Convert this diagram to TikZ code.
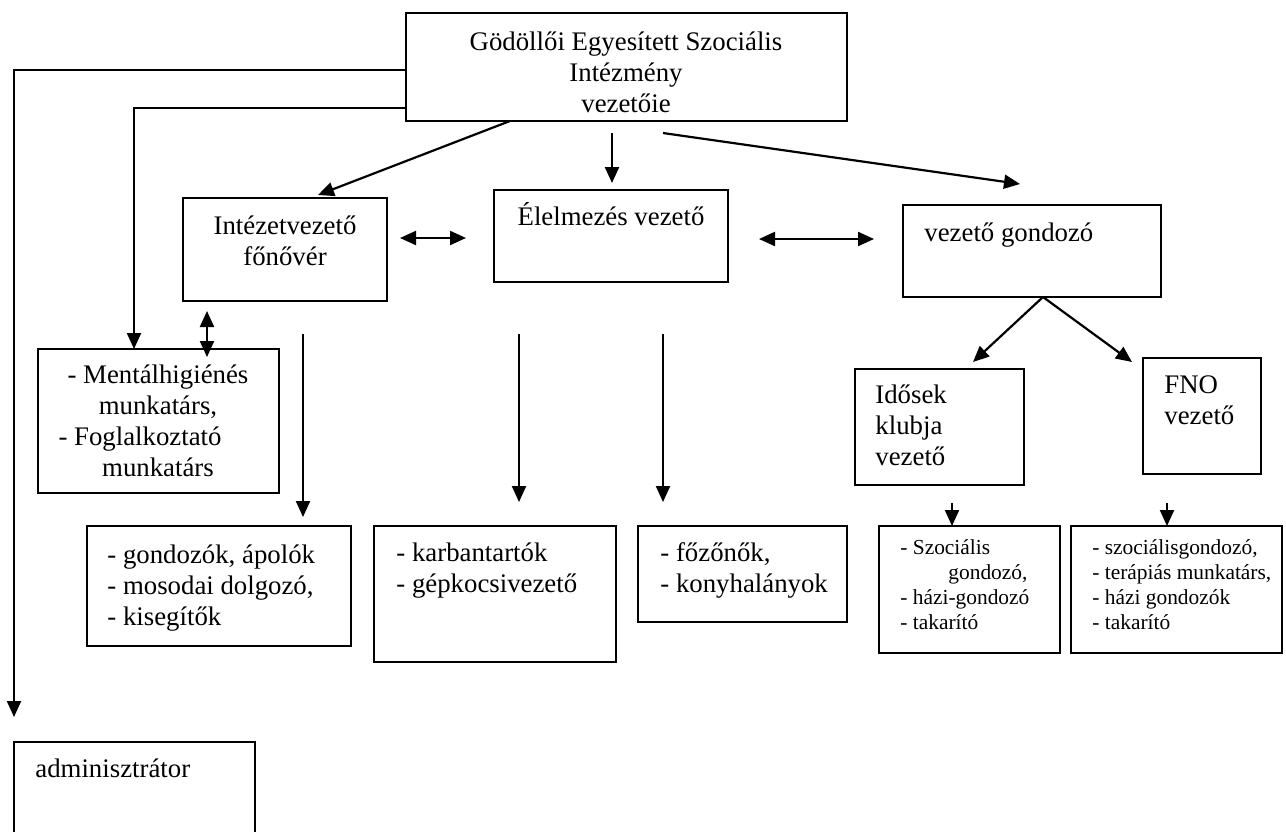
\documentclass[tikz,border=0pt]{standalone}
\usepackage{fontspec}
\setmainfont{Liberation Serif}
\usetikzlibrary{arrows.meta}
\newcommand\mainfs{\fontsize{13.4}{15.5}\selectfont}
\newcommand\smallfs{\fontsize{10.7}{12.4}\selectfont}
\newcommand\mkbox[5]{\node[boxst, anchor=north west, minimum width={(#4-#2)*0.5pt}, minimum height={(#5-#3)*0.5pt}] (#1) at (#2,#3) {};}
\begin{document}
\begin{tikzpicture}[x=0.5pt,y=-0.5pt,
  boxst/.style={draw, line width=1.1pt, inner sep=0pt, outer sep=0pt},
  txt/.style={inner sep=0pt, font=\mainfs, align=left, anchor=base west},
  ctxt/.style={inner sep=0pt, font=\mainfs, align=center, anchor=base},
  stxt/.style={inner sep=0pt, font=\smallfs, align=left, anchor=base west},
  arr/.style={line width=1.1pt, -{Triangle[length=8pt,width=7pt]}},
  darr/.style={line width=1.1pt, {Triangle[length=8pt,width=7pt]}-{Triangle[length=8pt,width=7pt]}}]
\path[use as bounding box, clip] (0,0) rectangle (1286,831);
\fill[white] (0,0) rectangle (1286,831);

% boxes
\mkbox{top}{406}{13}{847}{121}
\mkbox{intez}{183}{198}{387}{301}
\mkbox{elel}{494}{190}{728}{282}
\mkbox{vgond}{903}{205}{1161}{297}
\mkbox{mental}{38}{349}{279}{493}
\mkbox{gond}{87}{526}{351}{646}
\mkbox{karb}{374}{526}{616}{662}
\mkbox{fozo}{638}{526}{847}{622}
\mkbox{idos}{855}{369}{1024}{485}
\mkbox{fno}{1143}{358}{1261}{474}
\mkbox{szoc}{879}{526}{1060}{653}
\mkbox{fnol}{1071}{526}{1282}{653}
\mkbox{adm}{14}{742}{255}{840}

% texts (anchor = baseline of the last line)
\node[ctxt] (topt) at (626,112) {Gödöllői Egyesített Szociális\\Intézmény\\vezetőie};
\node[ctxt] (intezt) at (285,265) {Intézetvezető\\főnővér};
\node[ctxt] (elelt) at (611,225) {Élelmezés vezető};
\node[txt] (vgondt) at (924,241) {vezető gondozó};
\node[ctxt] (mentalt) at (158,476) {- Mentálhigiénés\\munkatárs,\\\mbox{- Foglalkoztató\hspace{18pt}}\\munkatárs};
\node[txt] (gondt) at (107,625) {- gondozók, ápolók\\- mosodai dolgozó,\\- kisegítők};
\node[txt] (karbt) at (396,592) {- karbantartók\\- gépkocsivezető};
\node[txt] (fozot) at (660,592) {- főzőnők,\\- konyhalányok};
\node[txt] (idost) at (875,465) {Idősek\\klubja\\vezető};
\node[txt] (fnot) at (1164,424) {FNO\\vezető};
\node[stxt] (szoct) at (900,629) {- Szociális\\\hspace*{24pt}gondozó,\\- házi-gondozó\\- takarító};
\node[stxt] (fnolt) at (1092,629) {- szociálisgondozó,\\- terápiás munkatárs,\\- házi gondozók\\- takarító};
\node[txt] (admt) at (35,777) {adminisztrátor};

% connector points
\coordinate (c1) at (14,70);
\coordinate (c1e) at (14,717);
\coordinate (c2) at (134,108);
\coordinate (d1s) at (510,121);
\coordinate (d1e) at (318,195);
\coordinate (d2s) at (612,133);
\coordinate (d2e) at (612,183);
\coordinate (d3s) at (663,133);
\coordinate (d3e) at (1020,184);
\coordinate (h1s) at (400,238);
\coordinate (h1e) at (466,238);
\coordinate (h2s) at (759,239);
\coordinate (h2e) at (874,239);
\coordinate (v1s) at (207,311);
\coordinate (v1e) at (207,357);
\coordinate (g1s) at (303,334);
\coordinate (g1e) at (303,517);
\coordinate (k1s) at (519,334);
\coordinate (k1e) at (519,502);
\coordinate (f1s) at (663,334);
\coordinate (f1e) at (663,502);
\coordinate (vg) at (1043,297);
\coordinate (vgl) at (973,362);
\coordinate (vgr) at (1132,362);
\coordinate (s1s) at (952,503);
\coordinate (s2s) at (1167,503);

% connectors
\draw[arr] (top.west |- c1) -- (c1) -- (c1e);
\draw[arr] (top.west |- c2) -- (c2) -- (c2 |- mental.north);
\draw[arr] (d1s) -- (d1e);
\draw[arr] (d2s) -- (d2e);
\draw[arr] (d3s) -- (d3e);
\draw[darr] (h1s) -- (h1e);
\draw[darr] (h2s) -- (h2e);
\draw[darr] (v1s) -- (v1e);
\draw[arr] (g1s) -- (g1e);
\draw[arr] (k1s) -- (k1e);
\draw[arr] (f1s) -- (f1e);
\draw[arr] (vg) -- (vgl);
\draw[arr] (vg) -- (vgr);
\draw[arr] (s1s) -- (s1s |- szoc.north);
\draw[arr] (s2s) -- (s2s |- fnol.north);
\end{tikzpicture}
\end{document}
